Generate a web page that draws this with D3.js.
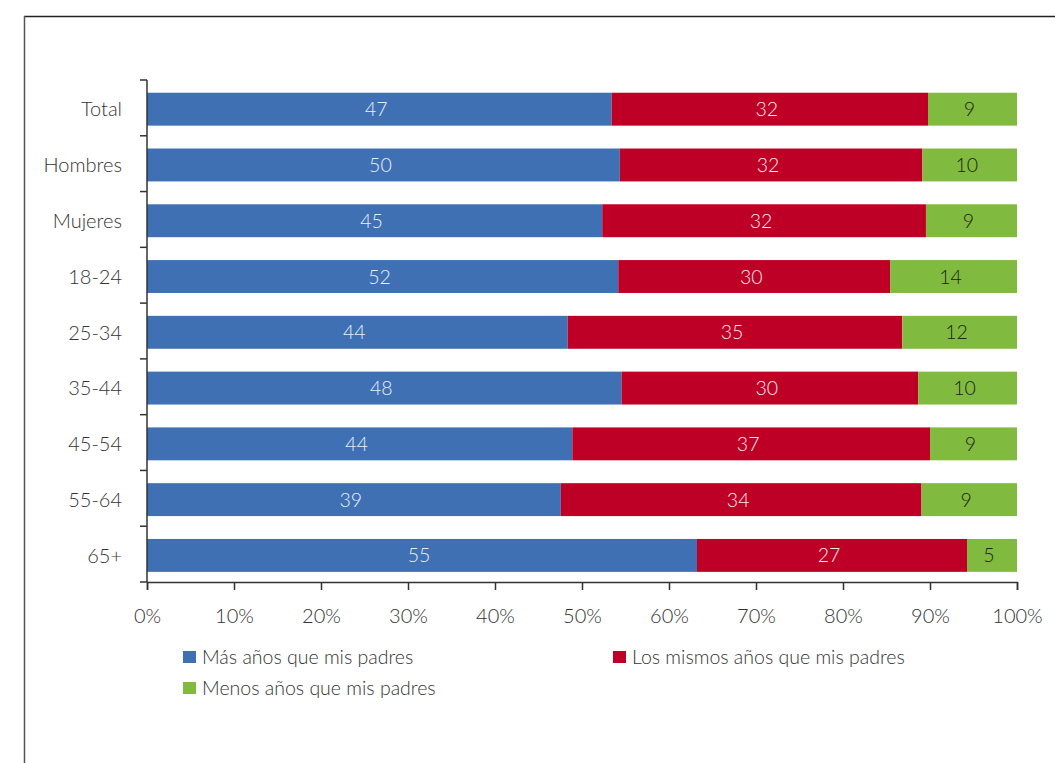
<!DOCTYPE html>
<html>
<head>
<meta charset="utf-8">
<script src="https://cdn.jsdelivr.net/npm/d3@7"></script>
<style>
  html, body { margin: 0; padding: 0; background: #fff; }
  svg { display: block; }
  text { font-family: Lato, "Open Sans", sans-serif; font-weight: 300; }
</style>
</head>
<body>
<svg id="chart" width="1055" height="763"></svg>
<script>
// Categories (top to bottom)
const categories = ["Total", "Hombres", "Mujeres", "18-24", "25-34", "35-44", "45-54", "55-64", "65+"];
// Series values
const masAnios     = [47, 50, 45, 52, 44, 48, 44, 39, 55];
const mismosAnios  = [32, 32, 32, 30, 35, 30, 37, 34, 27];
const menosAnios   = [9, 10, 9, 14, 12, 10, 9, 9, 5];
const seriesNames  = ["Más años que mis padres", "Los mismos años que mis padres", "Menos años que mis padres"];
const tickValues   = [0, 0.1, 0.2, 0.3, 0.4, 0.5, 0.6, 0.7, 0.8, 0.9, 1];

const colors = ["#3E70B3", "#BE0026", "#80BA3F"];
const labelColors = ["#e8eef8", "#f8e8ec", "#222"];

const svg = d3.select("#chart");

// Frame around the figure
svg.append("line").attr("x1", 24).attr("x2", 1055).attr("y1", 16.5).attr("y2", 16.5)
  .attr("stroke", "#222").attr("stroke-width", 1.5);
svg.append("line").attr("x1", 24.5).attr("x2", 24.5).attr("y1", 16).attr("y2", 763)
  .attr("stroke", "#555").attr("stroke-width", 1.5);

const margin = { left: 147, right: 1017, top: 80, bottom: 582 };

const keys = ["mas", "mismos", "menos"];
const rows = categories.map((c, i) => ({ cat: c, mas: masAnios[i], mismos: mismosAnios[i], menos: menosAnios[i] }));
const stacked = d3.stack().keys(keys).offset(d3.stackOffsetExpand)(rows);

const x = d3.scaleLinear().domain([0, 1]).range([margin.left, margin.right]);
// Bars sit slightly below the centre of each axis band
const y = d3.scaleBand().domain(categories).range([margin.top + 1.3, margin.bottom + 1.3]).paddingInner(0.41).paddingOuter(0.205);

// Bars
const g = svg.append("g");
stacked.forEach((s, si) => {
  const sg = g.append("g");
  sg.selectAll("rect").data(s).join("rect")
    .attr("x", d => x(d[0]))
    .attr("y", d => y(d.data.cat))
    .attr("width", d => x(d[1]) - x(d[0]))
    .attr("height", y.bandwidth())
    .attr("fill", colors[si]);
  sg.selectAll("text").data(s).join("text")
    .attr("x", d => (x(d[0]) + x(d[1])) / 2 - 3)
    .attr("y", d => y(d.data.cat) + y.bandwidth() / 2)
    .attr("dy", "0.36em")
    .attr("text-anchor", "middle")
    .attr("font-size", 19.5)
    .attr("fill", labelColors[si])
    .text(d => d.data[keys[si]]);
});

// Y axis with ticks at band boundaries
const yAxis = svg.append("g");
yAxis.append("line").attr("x1", margin.left).attr("x2", margin.left)
  .attr("y1", margin.top).attr("y2", margin.bottom).attr("stroke", "#333").attr("stroke-width", 1.5);
const step = (margin.bottom - margin.top) / categories.length;
yAxis.selectAll("line.tick").data(d3.range(categories.length + 1)).join("line")
  .attr("class", "tick")
  .attr("x1", margin.left - 7).attr("x2", margin.left)
  .attr("y1", i => margin.top + i * step).attr("y2", i => margin.top + i * step)
  .attr("stroke", "#333").attr("stroke-width", 1.5);
yAxis.selectAll("text").data(categories).join("text")
  .attr("x", 122)
  .attr("y", d => y(d) + y.bandwidth() / 2)
  .attr("dy", "0.36em")
  .attr("text-anchor", "end")
  .attr("font-size", 20)
  .attr("fill", "#333")
  .text(d => d);

// X axis
const xAxis = svg.append("g").attr("transform", `translate(0,${margin.bottom})`)
  .call(d3.axisBottom(x).tickValues(tickValues).tickFormat(d3.format(".0%")).tickSize(8).tickPadding(19));
xAxis.select(".domain").attr("stroke", "#333").attr("stroke-width", 1.5);
xAxis.selectAll(".tick line").attr("stroke", "#333").attr("stroke-width", 1.5);
xAxis.selectAll(".tick text").attr("font-size", 20).attr("fill", "#333")
  .attr("font-family", "Lato, sans-serif").attr("font-weight", 300);

// Legend
const legendPos = [[183, 657], [613, 657], [183, 688]];
const legend = svg.append("g");
seriesNames.forEach((name, i) => {
  const [lx, ly] = legendPos[i];
  legend.append("rect").attr("x", lx).attr("y", ly - 6).attr("width", 13).attr("height", 12).attr("fill", colors[i]);
  legend.append("text").attr("x", lx + 19).attr("y", ly).attr("dy", "0.36em")
    .attr("font-size", 19.5).attr("fill", "#333").text(name);
});
</script>
</body>
</html>
